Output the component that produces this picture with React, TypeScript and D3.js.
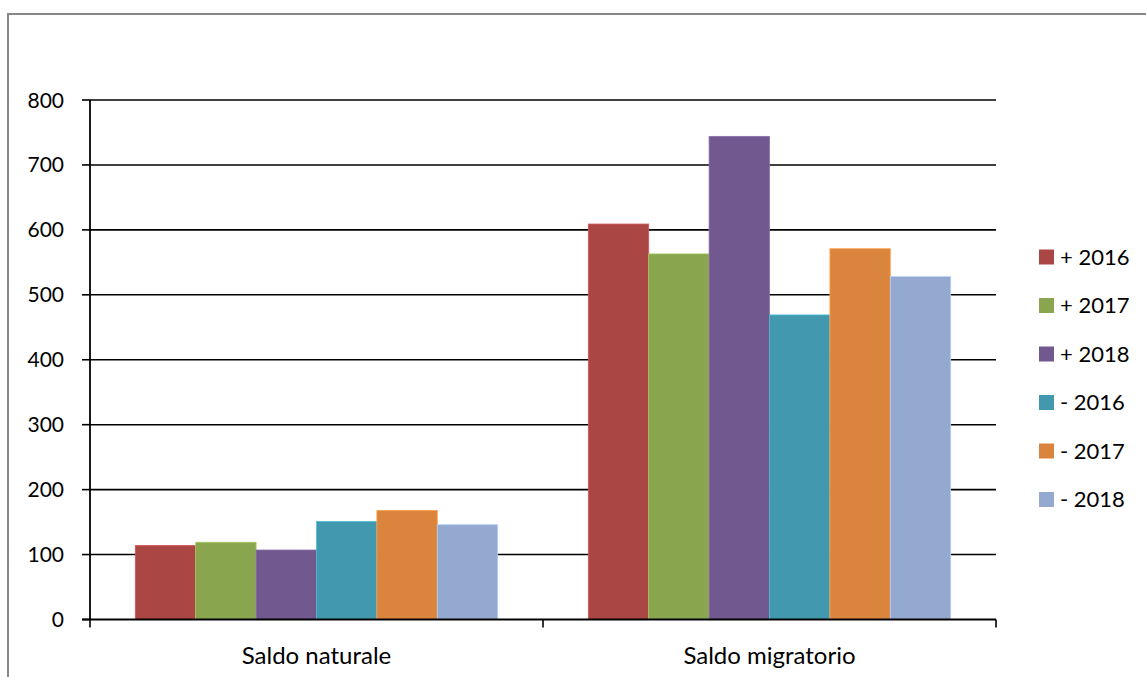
import React from "react";
import * as d3 from "d3";

const categories = ["Saldo naturale", "Saldo migratorio"];
const seriesNames = ["+ 2016", "+ 2017", "+ 2018", "- 2016", "- 2017", "- 2018"];
const seriesColors = ["#AA4643", "#89A54E", "#71588F", "#4198AF", "#DB843D", "#93A9CF"];
const valuesNaturale = [114, 119, 107, 151, 168, 146];
const valuesMigratorio = [609, 563, 744, 469, 571, 528];
const yTicks = [0, 100, 200, 300, 400, 500, 600, 700, 800];

const W = 1146;
const H = 677;
const FONT = "Lato, 'Open Sans', sans-serif";

export default function App() {
  const left = 90, right = 996, top = 100, bottom = 619.5;
  const y = d3.scaleLinear().domain([0, 800]).range([bottom, top]);
  const x0 = d3.scaleBand<string>().domain(categories).range([left, right]).paddingInner(0.2).paddingOuter(0.1);
  const x1 = d3.scaleBand<string>().domain(seriesNames).range([0, x0.bandwidth()]);
  const data = [valuesNaturale, valuesMigratorio];
  const step = x0.step();
  const boundaries = [left, left + step, left + 2 * step];

  return (
    <svg width={W} height={H} style={{ position: "absolute", left: 0, top: 0, background: "#fff" }}>
      <rect x={8} y={14} width={W + 10} height={H + 10} fill="#fff" stroke="#888" strokeWidth={2} />
      {yTicks.slice(1).map((t) => (
        <line key={"g" + t} x1={left} x2={right} y1={y(t)} y2={y(t)} stroke="#000" strokeWidth={1.6} />
      ))}
      {categories.map((c, ci) =>
        seriesNames.map((s, si) => {
          const v = data[ci][si];
          const col = seriesColors[si];
          return (
            <rect
              key={c + s}
              x={(x0(c) as number) + (x1(s) as number)}
              y={y(v)}
              width={x1.bandwidth()}
              height={y(0) - y(v)}
              fill={col}
              stroke={d3.color(col)!.brighter(0.6).formatHex()}
              strokeWidth={0.8}
            />
          );
        })
      )}
      <line x1={left} x2={left} y1={top} y2={bottom} stroke="#000" strokeWidth={1.8} />
      <line x1={left - 8} x2={right} y1={bottom} y2={bottom} stroke="#000" strokeWidth={1.8} />
      {yTicks.map((t) => (
        <g key={"t" + t}>
          <line x1={left - 8} x2={left} y1={y(t)} y2={y(t)} stroke="#000" strokeWidth={1.6} />
          <text x={64} y={y(t)} dy="0.36em" textAnchor="end" fontFamily={FONT} fontSize={21} fill="#000">
            {t}
          </text>
        </g>
      ))}
      {boundaries.map((b, i) => (
        <line key={"b" + i} x1={b} x2={b} y1={bottom} y2={bottom + 8} stroke="#000" strokeWidth={1.6} />
      ))}
      {categories.map((c) => (
        <text
          key={"c" + c}
          x={(x0(c) as number) + x0.bandwidth() / 2}
          y={664}
          textAnchor="middle"
          fontFamily={FONT}
          fontSize={24}
          fill="#000"
        >
          {c}
        </text>
      ))}
      {seriesNames.map((s, i) => {
        const cy = 257 + i * 48.5;
        return (
          <g key={"l" + s}>
            <rect x={1039} y={cy - 7.5} width={15} height={15} fill={seriesColors[i]} />
            <text x={1060} y={cy} dy="0.36em" fontFamily={FONT} fontSize={22} fill="#000">
              {s}
            </text>
          </g>
        );
      })}
    </svg>
  );
}
